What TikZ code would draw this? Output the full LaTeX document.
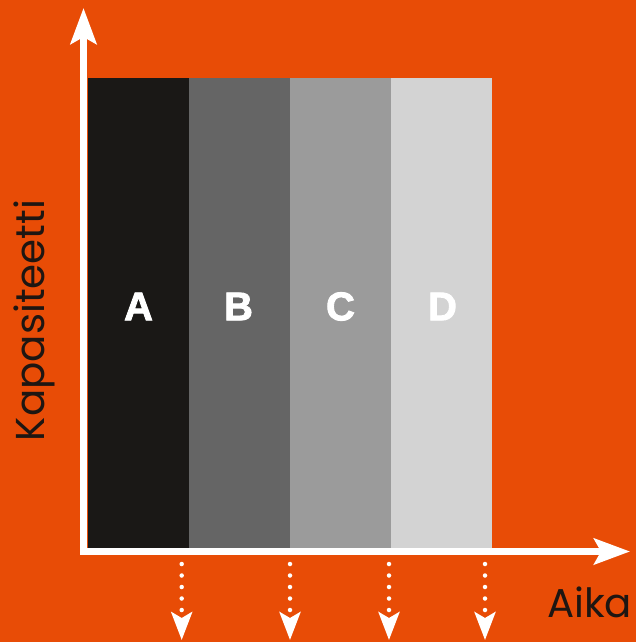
\documentclass[tikz,border=0pt]{standalone}
\usepackage{fontspec}
\setmainfont{Poppins}
\newfontfamily\letterfont[BoldFeatures={FakeBold=2.2}]{Liberation Sans}
\usetikzlibrary{arrows.meta}
\definecolor{bgorange}{RGB}{232,76,6}
\definecolor{barA}{RGB}{26,24,22}
\definecolor{barB}{RGB}{101,101,101}
\definecolor{barC}{RGB}{155,155,155}
\definecolor{barD}{RGB}{211,211,211}
\definecolor{labelink}{RGB}{30,22,18}
\tikzset{
  barbox/.style={draw=none, minimum width=101pt, minimum height=470.5pt, inner sep=0pt, outer sep=0pt},
  barletter/.style={text=white, font=\letterfont\bfseries\fontsize{40}{40}\selectfont, inner sep=0pt, anchor=center},
  axisline/.style={white, line width=6.5pt, line join=miter, {Stealth[length=36pt,width=26pt,inset=7pt]}-{Stealth[length=36pt,width=26pt,inset=7pt]}},
  tickarrow/.style={white, line width=4.5pt, line cap=round, dash pattern=on 0pt off 11.5pt, -{Stealth[length=28pt,width=21pt,inset=6pt,line cap=butt]}},
  axislabel/.style={text=labelink, inner sep=0pt, outer sep=0pt}
}
\begin{document}
\begin{tikzpicture}[x=1pt,y=-1pt]
\fill[bgorange] (0,0) rectangle (636,642);
\useasboundingbox (0,0) rectangle (636,642);
% bars
\node[barbox, fill=barA] (barA) at (138.5,312.75) {};
\node[barbox, fill=barB] (barB) at (239.5,312.75) {};
\node[barbox, fill=barC] (barC) at (340.5,312.75) {};
\node[barbox, fill=barD] (barD) at (441.5,312.75) {};
\node[barletter] (letA) at (138.5,306.5) {A};
\node[barletter] (letB) at (238.5,306.5) {B};
\node[barletter] (letC) at (340.5,306.5) {C};
\node[barletter] (letD) at (442.5,306.5) {D};
% axes
\coordinate (xend) at (630,551.5);
\coordinate (origin) at (83.5,551.5);
\coordinate (yend) at (83.5,8);
\draw[axisline] (xend) -- (origin) -- (yend);
% dotted arrows
\foreach \i/\x in {1/181.7,2/290,3/389,4/485}{
  \coordinate (ts\i) at (\x,564);
  \coordinate (te\i) at (\x,640);
  \draw[tickarrow] (ts\i) -- (te\i);
}
% labels
\node[axislabel, anchor=base west] (aika) at (547,617) {\resizebox{85pt}{!}{Aika}};
\node[axislabel, anchor=base west, rotate=90] (kap) at (44,441) {\resizebox{241pt}{!}{Kapasiteetti}};
\end{tikzpicture}
\end{document}
